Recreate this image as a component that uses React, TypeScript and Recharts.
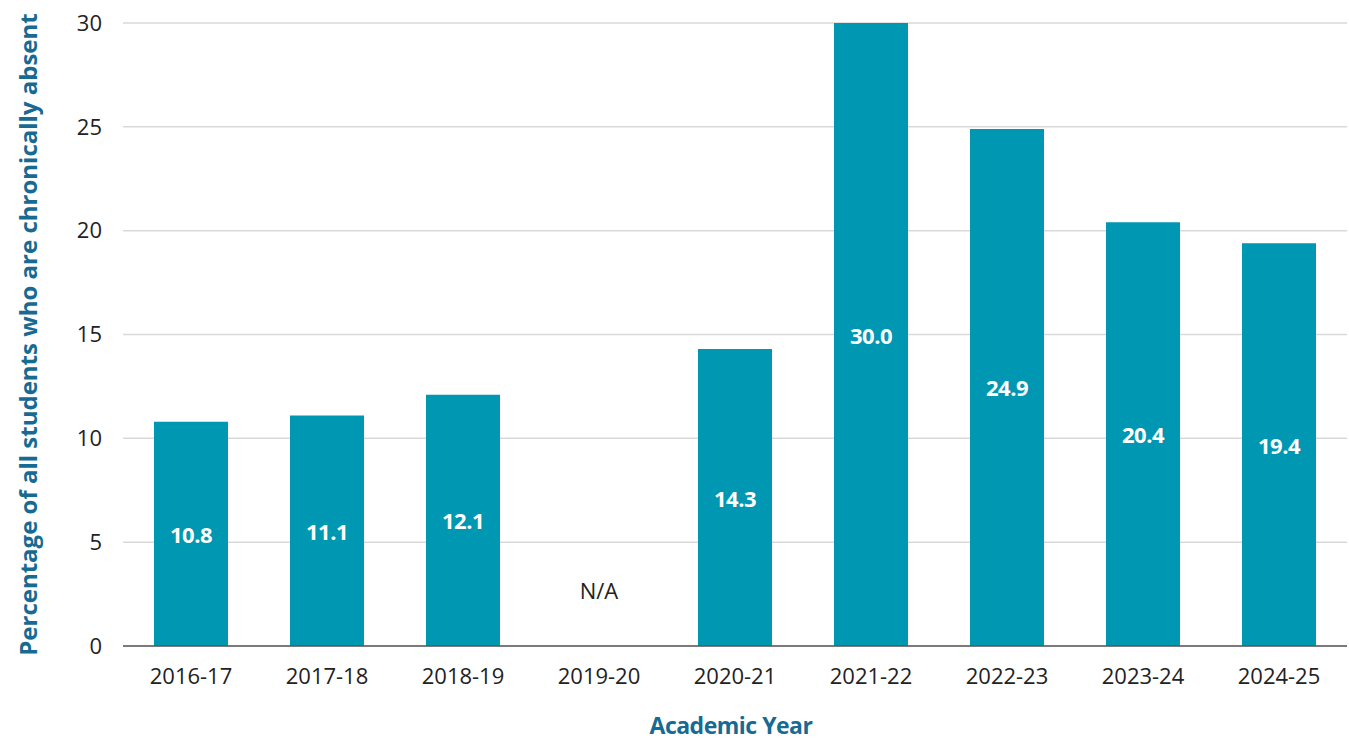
import { BarChart, Bar, XAxis, YAxis, CartesianGrid, LabelList, Label } from 'recharts'

const years = ['2016-17', '2017-18', '2018-19', '2019-20', '2020-21', '2021-22', '2022-23', '2023-24', '2024-25']
const absentPct: (number | null)[] = [10.8, 11.1, 12.1, null, 14.3, 30.0, 24.9, 20.4, 19.4]
const yTicks = [0, 5, 10, 15, 20, 25, 30]

const data = years.map((year, i) => ({
  year,
  value: absentPct[i],
}))

const FONT = '"Open Sans", sans-serif'
const BAR = '#0097b2'
const TITLE = '#176a92'

function ValueLabel(props: any) {
  const { x, y, width, height, value } = props
  if (value == null) return null
  return (
    <text x={x + width / 2} y={y + height / 2} textAnchor="middle" dominantBaseline="central" fontSize={22} fontWeight={700} fill="#fff" fontFamily={FONT} letterSpacing={-0.5}>
      {Number(value).toFixed(1)}
    </text>
  )
}

// x tick; years with no data get an "N/A" just above the axis
function YearTick(props: any) {
  const { x, y, payload, index } = props
  const missing = absentPct[index] == null
  return (
    <g>
      <text x={x} y={y} dy="0.71em" textAnchor="middle" fontSize={22} fill="#222" fontFamily={FONT}>
        {payload.value}
      </text>
      {missing && (
        <text x={x} y={y - 78} textAnchor="middle" dominantBaseline="central" fontSize={22} fill="#222" fontFamily={FONT}>
          N/A
        </text>
      )}
    </g>
  )
}

export default function App() {
  return (
    <div style={{ position: 'absolute', left: 0, top: 0, background: '#fff' }}>
      <BarChart width={1349} height={740} data={data} margin={{ top: 23, right: 2, left: 0, bottom: 0 }}>
        <CartesianGrid vertical={false} stroke="#d9d9d9" strokeWidth={1.5} />
        <XAxis
          dataKey="year"
          height={94}
          tickLine={false}
          tickSize={0}
          tickMargin={22}
          axisLine={{ stroke: '#595959', strokeWidth: 1.5 }}
          tick={<YearTick />}
          interval={0}
        >
          <Label
            content={(p: any) => {
              const vb = p.viewBox
              return (
                <text x={vb.x + vb.width / 2 - 4} y={734} textAnchor="middle" fontSize={23} fontWeight={700} fill={TITLE} fontFamily={FONT} letterSpacing={-0.5}>
                  Academic Year
                </text>
              )
            }}
          />
        </XAxis>
        <YAxis
          width={123}
          domain={[0, 30]}
          ticks={yTicks}
          interval={0}
          tickLine={false}
          tickSize={0}
          tickMargin={21}
          axisLine={false}
          tick={{ fontSize: 22, fill: '#222', fontFamily: FONT }}
        >
          <Label
            content={(p: any) => {
              const vb = p.viewBox
              const cy = vb.y + vb.height / 2
              return (
                <text x={27} y={cy} transform={`rotate(-90 27 ${cy})`} textAnchor="middle" dominantBaseline="central" fontSize={24} fontWeight={700} fill={TITLE} fontFamily={FONT}>
                  Percentage of all students who are chronically absent
                </text>
              )
            }}
          />
        </YAxis>
        <Bar dataKey="value" fill={BAR} barSize={74} isAnimationActive={false}>
          <LabelList dataKey="value" content={<ValueLabel />} />
        </Bar>
      </BarChart>
    </div>
  )
}
